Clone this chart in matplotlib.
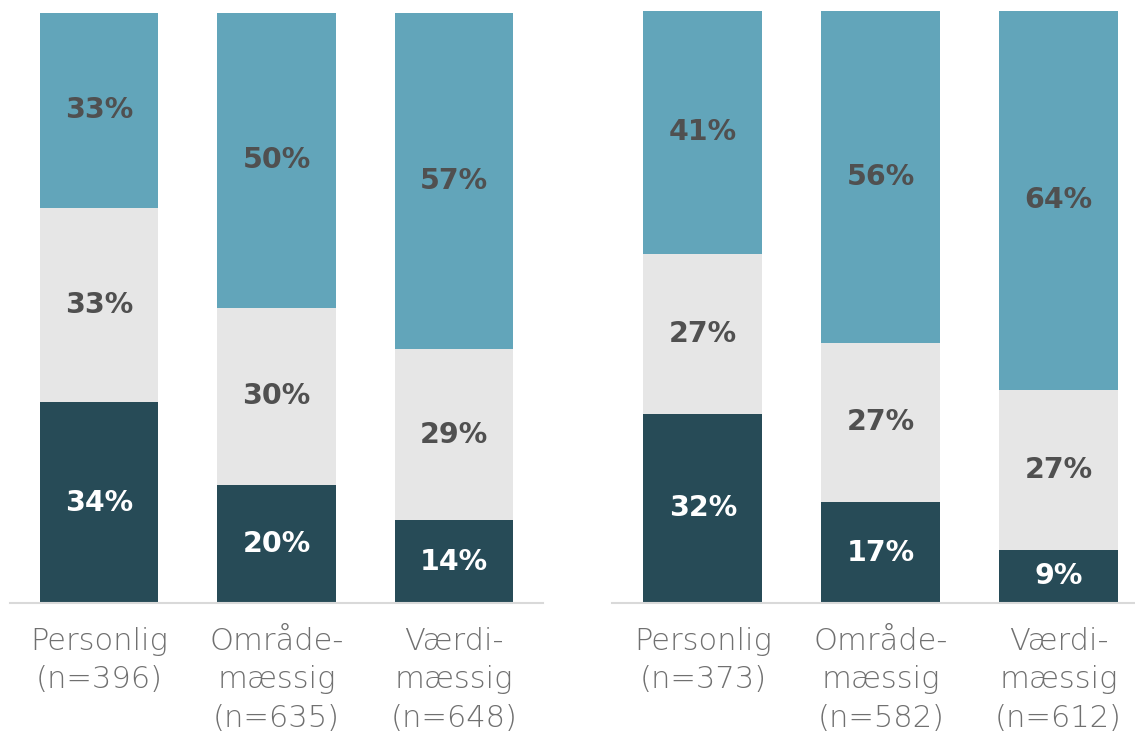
import matplotlib.pyplot as plt
import numpy as np

# data: three groups per panel, stacked from bottom
labels_left = ['Personlig\n(n=396)', 'Område-\nmæssig\n(n=635)', 'Værdi-\nmæssig\n(n=648)']
labels_right = ['Personlig\n(n=373)', 'Område-\nmæssig\n(n=582)', 'Værdi-\nmæssig\n(n=612)']

bottom_left = [34, 20, 14]
middle_left = [33, 30, 29]
top_left = [33, 50, 57]

bottom_right = [32, 17, 9]
middle_right = [27, 27, 27]
top_right = [41, 56, 64]

c_dark = '#274b57'
c_mid = '#e6e6e6'
c_top = '#62a5ba'

fig = plt.figure(figsize=(11.35, 7.38), dpi=100)
ax1 = fig.add_axes([10/1135, 135/738, 533/1135, 590/738])
ax2 = fig.add_axes([612/1135, 135/738, 523/1135, 592/738])


def draw(ax, labels, b, m, t, xlim):
    x = np.arange(len(labels))
    b = np.array(b)
    m = np.array(m)
    t = np.array(t)
    segs = [(b, 0, c_dark, 'white'), (m, b, c_mid, '#505050'), (t, b + m, c_top, '#505050')]
    for vals, base, col, tc in segs:
        ax.bar(x, vals, bottom=base, width=0.667, color=col, edgecolor='none')
        for xi, v, bs in zip(x, vals, np.broadcast_to(base, vals.shape)):
            ax.text(xi, bs + v / 2, f'{v}%', ha='center', va='center',
                    fontsize=20.5, fontweight='bold', color=tc)
    ax.set_xlim(*xlim)
    ax.set_ylim(0, 100)
    ax.set_xticks(x)
    ax.set_xticklabels(labels, fontsize=22, color='#707070', fontweight='light',
                       linespacing=1.42)
    ax.tick_params(axis='x', length=0, pad=17)
    ax.set_yticks([])
    for s in ['top', 'left', 'right']:
        ax.spines[s].set_visible(False)
    ax.spines['bottom'].set_color('#d9d9d9')
    ax.spines['bottom'].set_linewidth(1.5)


draw(ax1, labels_left, bottom_left, middle_left, top_left, (-0.503, 2.503))
draw(ax2, labels_right, bottom_right, middle_right, top_right, (-0.51, 2.43))

fig.savefig('out.png', dpi=100)
